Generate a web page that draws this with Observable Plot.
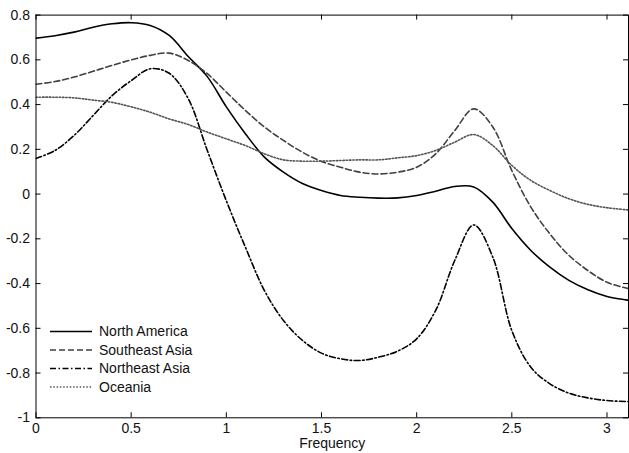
<!DOCTYPE html>
<html>
<head>
<meta charset="utf-8">
<script src="https://cdn.jsdelivr.net/npm/d3@7"></script>
<script src="https://cdn.jsdelivr.net/npm/@observablehq/plot@0.6"></script>
<style>
  html, body { margin: 0; padding: 0; background: #fff; }
  svg { font-family: "Liberation Sans", Arial, sans-serif; }
</style>
</head>
<body>
<div id="chart"></div>
<script>
const frequency = [0,0.1,0.2,0.3,0.4,0.5,0.6,0.7,0.8,0.9,1.0,1.1,1.2,1.3,1.4,1.5,1.6,1.7,1.8,1.9,2.0,2.1,2.2,2.3,2.4,2.5,2.6,2.7,2.8,2.9,3.0,3.1,3.14];
const northAmerica = [0.697,0.708,0.724,0.746,0.761,0.766,0.754,0.709,0.615,0.525,0.39,0.27,0.165,0.098,0.047,0.016,-0.006,-0.014,-0.018,-0.017,-0.006,0.013,0.034,0.032,-0.036,-0.154,-0.252,-0.327,-0.386,-0.428,-0.458,-0.473,-0.477];
const southeastAsia = [0.491,0.503,0.523,0.549,0.575,0.600,0.620,0.630,0.597,0.538,0.456,0.374,0.300,0.240,0.187,0.146,0.120,0.098,0.090,0.098,0.120,0.180,0.284,0.381,0.300,0.105,-0.058,-0.178,-0.274,-0.342,-0.394,-0.420,-0.425];
const northeastAsia = [0.159,0.195,0.262,0.351,0.440,0.507,0.560,0.540,0.426,0.195,-0.030,-0.237,-0.431,-0.565,-0.654,-0.711,-0.736,-0.744,-0.729,-0.702,-0.647,-0.520,-0.297,-0.138,-0.282,-0.610,-0.774,-0.848,-0.890,-0.911,-0.923,-0.927,-0.928];
const oceania = [0.433,0.433,0.430,0.420,0.410,0.390,0.366,0.336,0.311,0.277,0.247,0.217,0.180,0.153,0.147,0.147,0.150,0.153,0.153,0.162,0.172,0.195,0.232,0.266,0.217,0.128,0.061,0.016,-0.021,-0.046,-0.061,-0.070,-0.073];

const seriesNames = ["North America", "Southeast Asia", "Northeast Asia", "Oceania"];
const seriesValues = [northAmerica, southeastAsia, northeastAsia, oceania];
const xTicks = [0, 0.5, 1, 1.5, 2, 2.5, 3];
const yTicks = [-1, -0.8, -0.6, -0.4, -0.2, 0, 0.2, 0.4, 0.6, 0.8];
const xLabel = "Frequency";

const styles = [
  {stroke: "#000", dash: null, width: 1.6},
  {stroke: "#404040", dash: "6,3", width: 1.6},
  {stroke: "#000", dash: "6,2.5,1.5,2.5", width: 1.6},
  {stroke: "#555", dash: "1.5,1.8", width: 1.6}
];

const rows = [];
seriesNames.forEach((name, i) => {
  frequency.forEach((f, j) => rows.push({series: name, frequency: f, value: seriesValues[i][j]}));
});

const W = 629, H = 453;
const mL = 35.5, mR = 1, mT = 14.6, mB = 35.7;
const plotH = H - mT - mB;
const plotW = W - mL - mR;
const tickLen = 5;

const lineMarks = seriesNames.map((name, i) => Plot.line(rows.filter(r => r.series === name), {
  x: "frequency", y: "value", curve: "catmull-rom",
  stroke: styles[i].stroke, strokeWidth: styles[i].width,
  strokeDasharray: styles[i].dash, clip: true
}));

const fmt = d => String(d);

const chart = Plot.plot({
  width: W, height: H,
  marginLeft: mL, marginRight: mR, marginTop: mT, marginBottom: mB,
  style: {fontFamily: "Liberation Sans, Arial, sans-serif", fontSize: "14px", color: "#111", background: "#fff"},
  x: {domain: [0, 3.113]},
  y: {domain: [-1, 0.8]},
  marks: [
    ...lineMarks,
    Plot.tickX(xTicks, {x: d => d, insetTop: plotH - tickLen, stroke: "#000"}),
    Plot.tickX(xTicks, {x: d => d, insetBottom: plotH - tickLen, stroke: "#000"}),
    Plot.tickY(yTicks, {y: d => d, insetRight: plotW - tickLen, stroke: "#000"}),
    Plot.tickY(yTicks, {y: d => d, insetLeft: plotW - tickLen, stroke: "#000"}),
    Plot.axisX(xTicks, {tickSize: 0, tickPadding: 5, tickFormat: fmt, fontSize: 14, label: null}),
    Plot.axisY(yTicks, {tickSize: 0, tickPadding: 6, tickFormat: fmt, fontSize: 14, label: null}),
    Plot.text([xLabel], {frameAnchor: "bottom", dy: 26, lineAnchor: "middle", fontSize: 14, fill: "#111"}),
    Plot.frame({stroke: "#000", strokeWidth: 1})
  ]
});

// Legend (inside plot, lower left)
const svg = d3.select(chart);
const lg = svg.append("g").attr("text-anchor", "start");
const legendY = [331.5, 350, 368.5, 387];
seriesNames.forEach((name, i) => {
  lg.append("line")
    .attr("x1", 50).attr("x2", 92)
    .attr("y1", legendY[i]).attr("y2", legendY[i])
    .attr("stroke", styles[i].stroke)
    .attr("stroke-width", styles[i].width)
    .attr("stroke-dasharray", styles[i].dash);
  lg.append("text")
    .attr("x", 99).attr("y", legendY[i])
    .attr("dy", "0.35em")
    .attr("text-anchor", "start")
    .attr("font-size", 14)
    .attr("fill", "#111")
    .text(name);
});

document.getElementById("chart").appendChild(chart);
</script>
</body>
</html>
